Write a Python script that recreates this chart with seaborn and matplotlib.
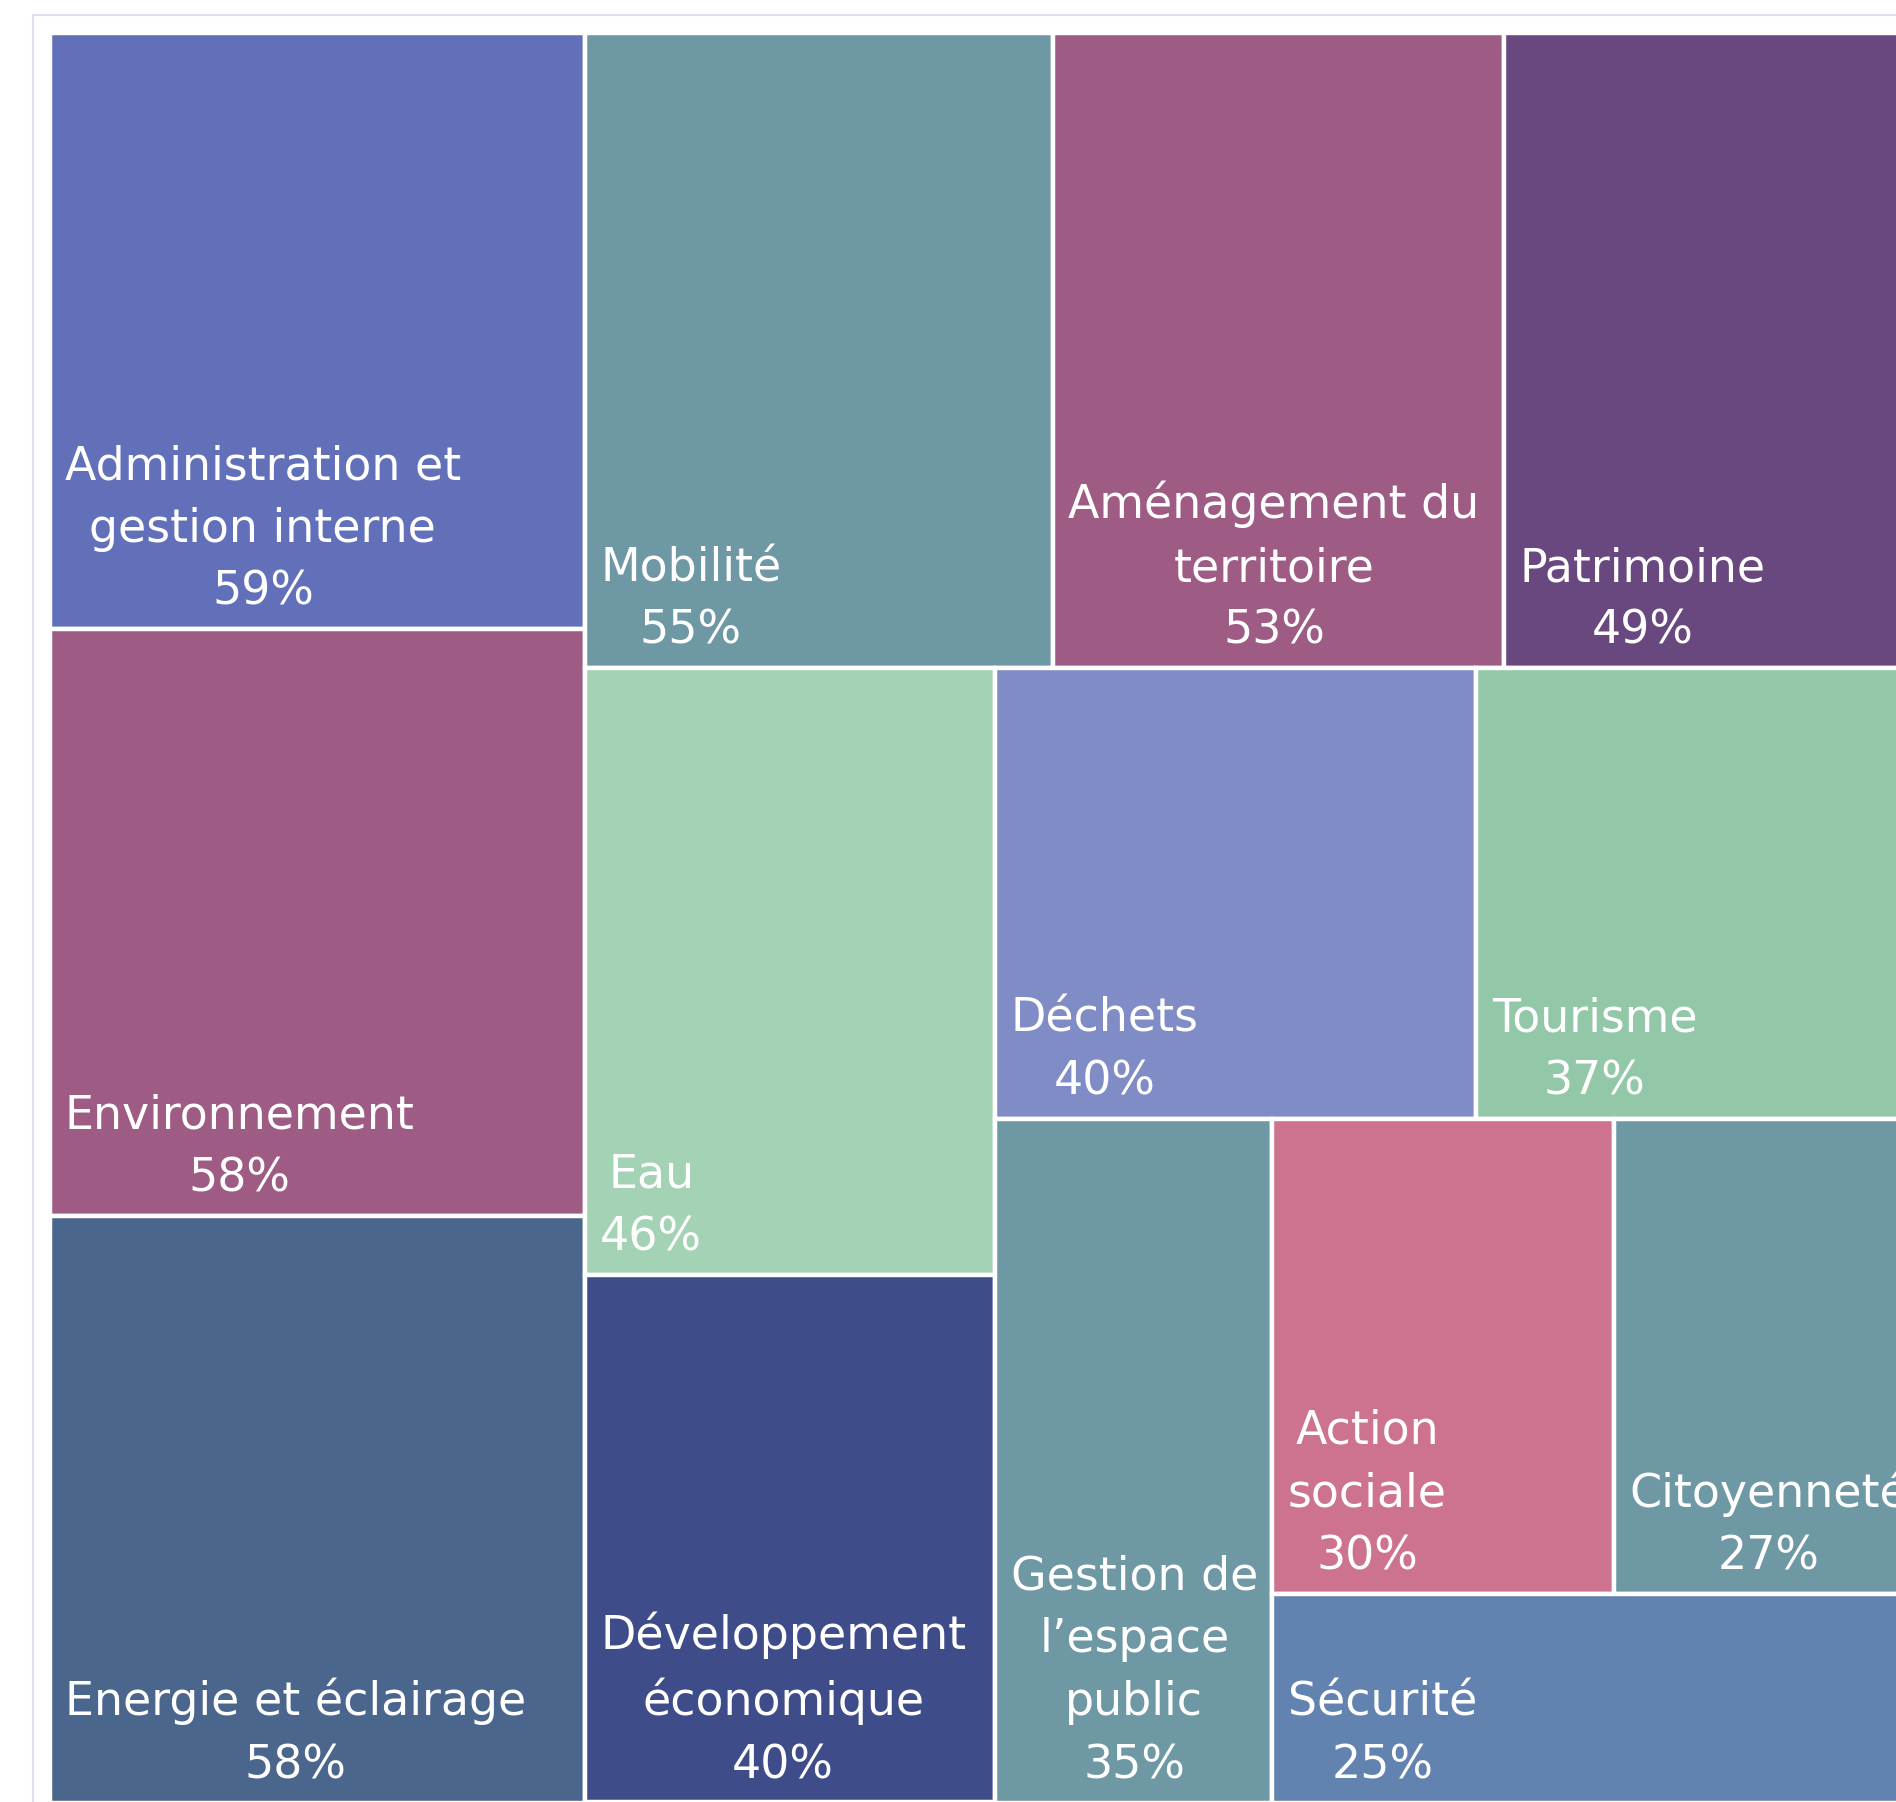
# =============================================================================
# Treemap : part des collectivités par domaine (pourcentages)
# Découpage "squarified" à directions alternées (colonne / ligne), calculé
# dans un espace d'axes de 148 x 100 puis étiré sur la zone de tracé.
# =============================================================================

import math
import matplotlib
matplotlib.use("Agg")
import matplotlib.pyplot as plt
from matplotlib.patches import Rectangle
import seaborn as sns

# --- DONNÉES ---
categories = [
    "Administration et\ngestion interne",
    "Environnement",
    "Energie et éclairage",
    "Mobilité",
    "Aménagement du\nterritoire",
    "Patrimoine",
    "Eau",
    "Développement\néconomique",
    "Déchets",
    "Tourisme",
    "Gestion de\nl’espace\npublic",
    "Action\nsociale",
    "Citoyenneté",
    "Sécurité",
]
pourcentages = [59, 58, 58, 55, 53, 49, 46, 40, 40, 37, 35, 30, 27, 25]
couleurs = [
    "#6270BA", "#9E5C85", "#4A668C", "#6F98A5", "#9E5C85", "#68487E", "#A3D2B5",
    "#3F4C8A", "#808CC6", "#92C8A7", "#6F98A5", "#CE738E", "#6F98A5", "#6283AF",
]

# --- CONFIGURATION ---
LARGEUR_AXE = 148.0
HAUTEUR_AXE = 100.0
W_PX, H_PX = 1896, 1802
NAN = float("nan")


def _div(a, b):
    return a / b if b else NAN


def _ratio(w, h):
    if not w or not h or math.isnan(w) or math.isnan(h):
        return NAN
    return max(w / h, h / w)


class Groupe:
    """Groupe courant de l'algorithme (colonne si direction 0, ligne sinon)."""

    def __init__(self, largeur, hauteur):
        self.largeur, self.hauteur = largeur, hauteur
        self.direction = 0
        self.x = self.y = 0.0
        self.nW = self.lW = self.nH = self.lH = 0.0
        self.total = 0.0
        self.elements = []
        self.lR = self.nR = NAN

    def ajouter(self, aire):
        prec = self.elements[-1] if self.elements else NAN
        self.total += aire
        if self.direction == 0:
            self.lW = self.nW
            self.lR = _ratio(self.lW, _div(prec, self.lW))
            self.nW = self.total / self.hauteur
            self.nR = _ratio(self.nW, _div(prec, self.nW))
        else:
            self.lH = self.nH
            self.lR = _ratio(_div(prec, self.lH), self.lH)
            self.nH = self.total / self.largeur
            self.nR = _ratio(_div(prec, self.nH), self.nH)
        self.elements.append(aire)

    def placer(self, dernier, rects, L, H):
        gW, gH = (self.nW, self.nH) if dernier else (self.lW, self.lH)
        garde = None if dernier else self.elements[-1]
        a_placer = self.elements if dernier else self.elements[:-1]
        x, y = self.x, self.y
        for aire in a_placer:
            if self.direction == 0:
                rects.append((x, y, gW, aire / gW))
                y += aire / gW
            else:
                rects.append((x, y, aire / gH, gH))
                x += aire / gH
        self.total = 0.0
        self.nW = self.lW = 0.0
        self.elements = []
        if self.direction == 0:
            self.largeur -= gW
        else:
            self.hauteur -= gH
        self.x = L - self.largeur
        self.y = H - self.hauteur
        self.direction = 1 - self.direction
        if garde is not None:
            self.ajouter(garde)


def treemap(valeurs, L, H):
    total = sum(valeurs)
    g = Groupe(L, H)
    rects = []
    for i, v in enumerate(valeurs):
        g.ajouter(L * H * v / total)
        if g.nR > g.lR:
            g.placer(False, rects, L, H)
        if i == len(valeurs) - 1:
            g.placer(True, rects, L, H)
    return rects


# --- FIGURE ---
sns.set_theme(style="white")
plt.rcParams["font.family"] = ["DejaVu Sans"]

fig = plt.figure(figsize=(W_PX / 100, H_PX / 100), dpi=100)
fig.patch.set_facecolor("white")

# cadre gris clair de la carte
fig.add_artist(Rectangle((33 / W_PX, -0.1), 1.2, 1.1 - 15 / H_PX,
                         transform=fig.transFigure, fill=False,
                         edgecolor="#DCE0F0", linewidth=1.5))

ax = fig.add_axes([49.5 / W_PX, 1 - (32.5 + 1770) / H_PX, 1872 / W_PX, 1770 / H_PX])
ax.set_xlim(0, LARGEUR_AXE)
ax.set_ylim(HAUTEUR_AXE, 0)
ax.axis("off")

rects = treemap(pourcentages, LARGEUR_AXE, HAUTEUR_AXE)
for (x, y, w, h), nom, pct, c in zip(rects, categories, pourcentages, couleurs):
    ax.add_patch(Rectangle((x, y), w, h, facecolor=c, edgecolor="white", linewidth=3.2))
    ax.annotate(f"{nom}\n{pct}%", xy=(x, y + h), xycoords="data",
                xytext=(11.0, 10.4), textcoords="offset points",
                ha="left", va="bottom", multialignment="center",
                color="white", fontsize=33, linespacing=1.51,
                annotation_clip=False)

fig.savefig("out.png", dpi=100)
